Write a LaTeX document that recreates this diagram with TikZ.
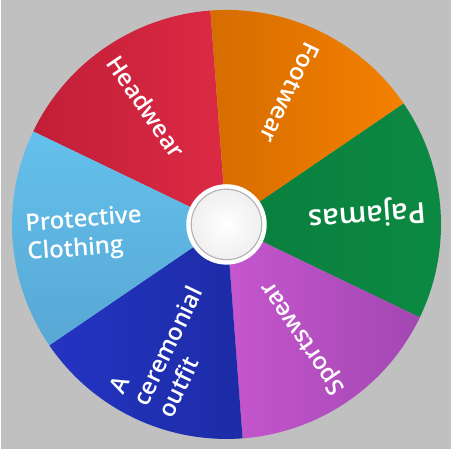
\documentclass[tikz,border=0pt]{standalone}
\usepackage{fontspec}
\setmainfont{Open Sans}
\IfFontExistsTF{Open Sans SemiBold}{\newfontfamily\lblfont{Open Sans SemiBold}}{%
  \IfFontExistsTF{Open Sans Semibold}{\newfontfamily\lblfont{Open Sans Semibold}}{%
    \newcommand\lblfont{\bfseries}}}
\usetikzlibrary{calc}
\definecolor{bg}{HTML}{C0C0C0}
\definecolor{redA}{HTML}{C21E38}
\definecolor{redB}{HTML}{DC2A44}
\definecolor{orA}{HTML}{D66D00}
\definecolor{orB}{HTML}{F48000}
\definecolor{grA}{HTML}{0A7E3E}
\definecolor{grB}{HTML}{0B8A42}
\definecolor{puA}{HTML}{C656CE}
\definecolor{puB}{HTML}{A247B2}
\definecolor{blA}{HTML}{2434C2}
\definecolor{blB}{HTML}{1C2CA6}
\definecolor{lbA}{HTML}{64C0EC}
\definecolor{lbB}{HTML}{58A8D4}
\begin{document}
\begin{tikzpicture}[x=1pt,y=1pt,
  lbl/.style={text=white, inner sep=0pt, anchor=west, align=left,
    font=\lblfont\fontsize{24}{27.5}\selectfont},
  biglbl/.style={lbl, font=\lblfont\fontsize{29}{32}\selectfont}]
\fill[bg] (0,0) rectangle (453,452);
\coordinate (C) at (227,226);
\def\R{216}
% Headwear
\shade[left color=redA, right color=redB] (C) -- ++(94.3:\R) arc[start angle=94.3, end angle=154.3, radius=\R] -- cycle;
% Footwear
\shade[left color=orA, right color=orB] (C) -- ++(34.3:\R) arc[start angle=34.3, end angle=94.3, radius=\R] -- cycle;
% Pajamas
\shade[left color=grA, right color=grB] (C) -- ++(-25.7:\R) arc[start angle=-25.7, end angle=34.3, radius=\R] -- cycle;
% Sportswear
\shade[left color=puA, right color=puB] (C) -- ++(-85.7:\R) arc[start angle=-85.7, end angle=-25.7, radius=\R] -- cycle;
% Ceremonial
\shade[left color=blA, right color=blB] (C) -- ++(-145.7:\R) arc[start angle=-145.7, end angle=-85.7, radius=\R] -- cycle;
% Protective
\shade[top color=lbA, bottom color=lbB] (C) -- ++(154.3:\R) arc[start angle=154.3, end angle=214.3, radius=\R] -- cycle;
% centre
\fill[white] (C) circle (40.5);
\shade[inner color=white, outer color=gray!12] (C) circle (35.5);
\draw[gray!60, line width=1.1pt] (C) circle (35.5);
% labels
\node[lbl, rotate=-55.7] (head) at ($(C)+(124.3:203)$) {Headwear};
\node[lbl, rotate=244.3] (foot) at ($(C)+(64.3:202)$) {Footwear};
\node[biglbl, rotate=184.3] (paja) at ($(C)+(4.3:201)$) {Pajamas};
\node[lbl, rotate=124.3] (sport) at ($(C)+(-55.7:204)$) {Sportswear};
\node[lbl, rotate=64.3] (cere) at ($(C)+(-115.7:201)$) {A\\ceremonial\\outfit};
\node[lbl, rotate=4.3, font=\lblfont\fontsize{24}{29}\selectfont] (prot) at ($(C)+(184.3:202)$) {Protective\\Clothing};
\end{tikzpicture}
\end{document}
